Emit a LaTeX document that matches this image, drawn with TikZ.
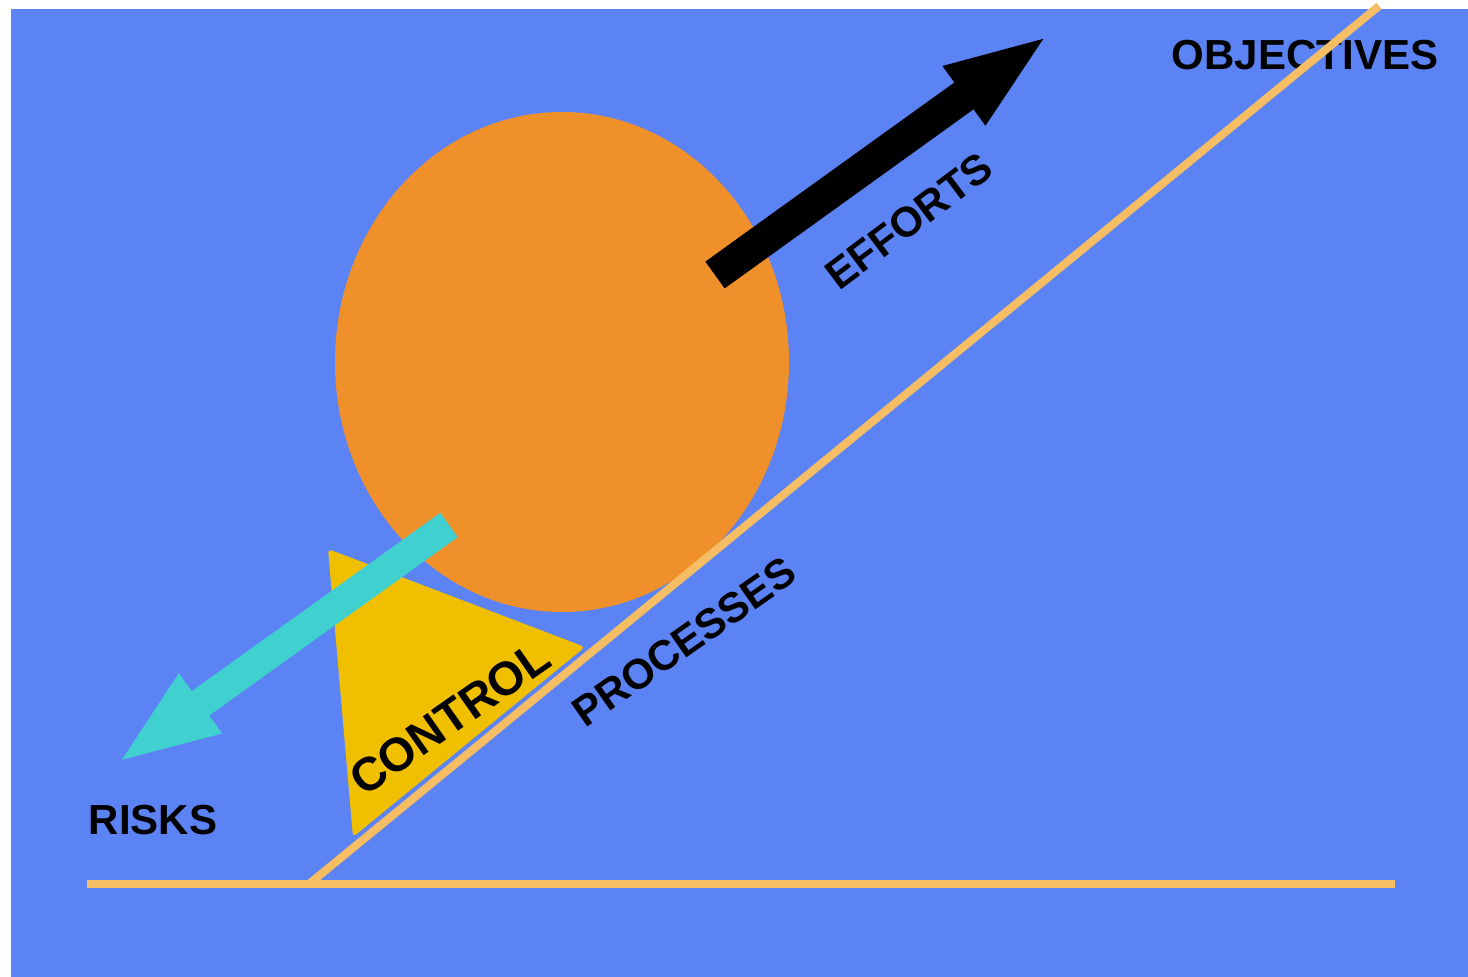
\documentclass[tikz,border=0pt]{standalone}
\usepackage{fontspec}
\setmainfont{Liberation Sans}
\usetikzlibrary{arrows.meta}

\begin{document}
\begin{tikzpicture}[x=0.5pt,y=-0.5pt,
  every node/.style={inner sep=0pt, outer sep=0pt, font=\bfseries\fontsize{21}{24}\selectfont},
  bigword/.style={font=\bfseries\fontsize{23.5}{28}\selectfont},
  rail/.style={draw={rgb,255:red,245;green,190;blue,100}, line width=4pt},
  effortarrow/.style={draw=black, line width=16.5pt, -{Triangle[length=53pt,width=32pt]}},
  riskarrow/.style={draw={rgb,255:red,64;green,208;blue,208}, line width=15pt, -{Triangle[length=52pt,width=32.5pt]}}]
\useasboundingbox (0,0) rectangle (1468,977);
\fill[fill={rgb,255:red,92;green,131;blue,243}] (11,9) rectangle (1468,977);
\fill[fill={rgb,255:red,240;green,192;blue,0}, rounded corners=2pt] (328,549) -- (353,837) -- (585,647) -- cycle;
\fill[fill={rgb,255:red,240;green,144;blue,42}] (562,362) ellipse [x radius=227, y radius=250];
\node (objectives) at (1305,55) {OBJECTIVES};
\node (risks) at (153,820) {RISKS};
\node[rotate=37] (efforts) at (909,221) {EFFORTS};
\node[rotate=35] (processes) at (684,642) {PROCESSES};
\node[bigword,rotate=35] (control) at (450,718) {CONTROL};
\coordinate (groundL) at (87,884);
\coordinate (groundR) at (1395,884);
\coordinate (slopeLow) at (309,884);
\coordinate (slopeTop) at (1379,6);
\draw[rail] (groundL) -- (groundR);
\draw[rail] (slopeLow) -- (slopeTop);
\coordinate (effortTail) at (715,275);
\coordinate (effortTip) at (1050,34);
\coordinate (riskTail) at (449,525);
\coordinate (riskTip) at (116,764);
\draw[effortarrow] (effortTail) -- (effortTip);
\draw[riskarrow] (riskTail) -- (riskTip);
\end{tikzpicture}
\end{document}
